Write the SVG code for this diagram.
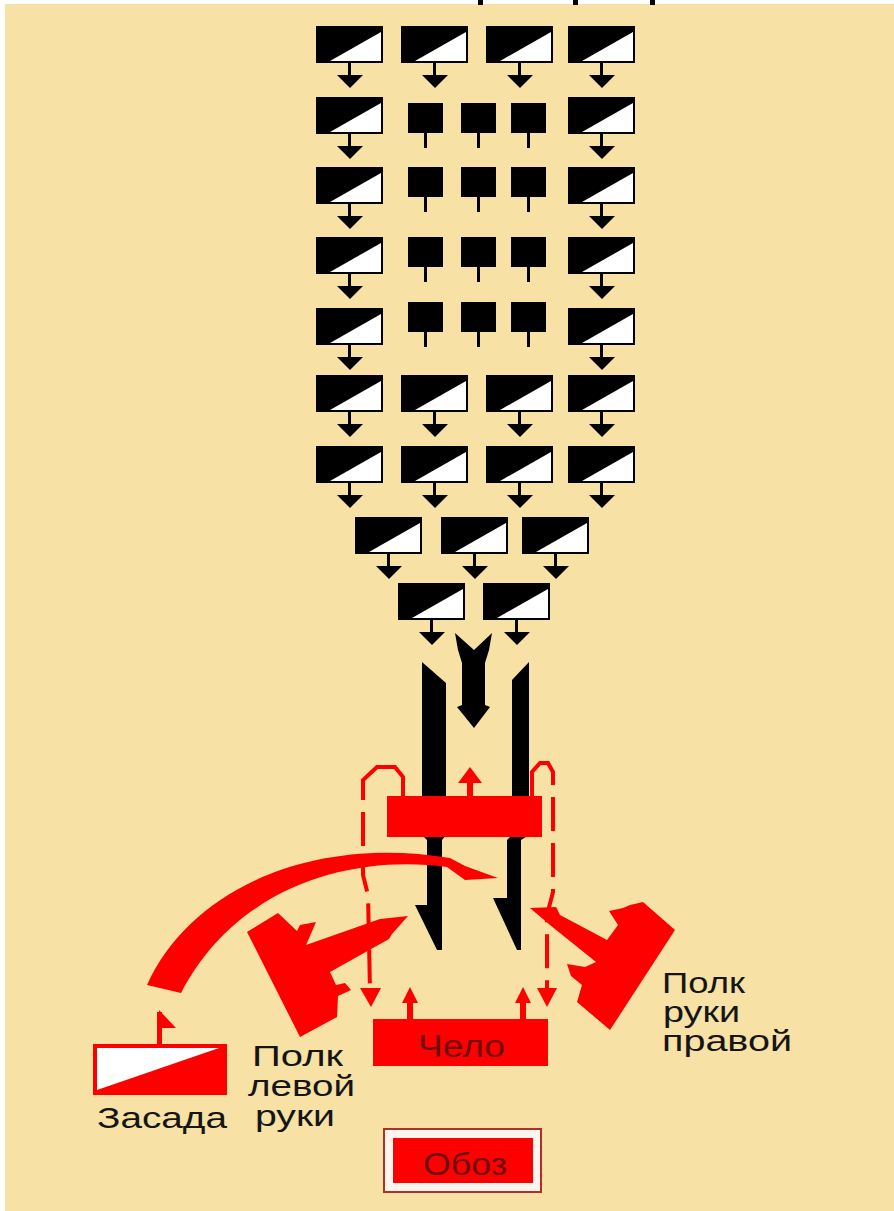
<svg xmlns="http://www.w3.org/2000/svg" xmlns:xlink="http://www.w3.org/1999/xlink" width="894" height="1211" viewBox="0 0 894 1211">
<style>
.blk{fill:#000}
.red{fill:#ff0000}
.dash{fill:none;stroke:#ff0000;stroke-width:4;stroke-dasharray:34 12}
.lbl{font-family:"Liberation Sans",Arial,sans-serif;font-size:29px;fill:#151515}
.in{font-family:"Liberation Sans",Arial,sans-serif;font-size:31px;fill:#6e0c0c}
</style>
<defs>
<g id="unit"><rect width="67" height="37" fill="#000"/><polygon points="14,35 65,6 65,35" fill="#fff"/><rect x="32" y="37" width="3" height="13" fill="#000"/><polygon points="21,49 47,49 34,62" fill="#000"/></g>
<g id="sq"><rect width="35" height="30" fill="#000"/><rect x="16" y="30" width="3" height="15" fill="#000"/></g>
</defs>
<rect width="894" height="1211" fill="#ffffff"/>
<rect x="5" y="4" width="889" height="1207" fill="#f7e1a4"/>
<g id="top-marks" class="blk"><rect x="478" y="0" width="5" height="5"/><rect x="573" y="0" width="5" height="5"/><rect x="650" y="0" width="5" height="5"/></g>
<g id="enemy-wedge">
<g id="r1"><use xlink:href="#unit" x="316" y="26"/><use xlink:href="#unit" x="401" y="26"/><use xlink:href="#unit" x="486" y="26"/><use xlink:href="#unit" x="568" y="26"/></g>
<g id="r2"><use xlink:href="#unit" x="316" y="97"/><use xlink:href="#sq" x="408" y="103"/><use xlink:href="#sq" x="461" y="103"/><use xlink:href="#sq" x="511" y="103"/><use xlink:href="#unit" x="568" y="97"/></g>
<g id="r3"><use xlink:href="#unit" x="316" y="167"/><use xlink:href="#sq" x="408" y="167"/><use xlink:href="#sq" x="461" y="167"/><use xlink:href="#sq" x="511" y="167"/><use xlink:href="#unit" x="568" y="167"/></g>
<g id="r4"><use xlink:href="#unit" x="316" y="237"/><use xlink:href="#sq" x="408" y="237"/><use xlink:href="#sq" x="461" y="237"/><use xlink:href="#sq" x="511" y="237"/><use xlink:href="#unit" x="568" y="237"/></g>
<g id="r5"><use xlink:href="#unit" x="316" y="308"/><use xlink:href="#sq" x="408" y="302"/><use xlink:href="#sq" x="461" y="302"/><use xlink:href="#sq" x="511" y="302"/><use xlink:href="#unit" x="568" y="308"/></g>
<g id="r6"><use xlink:href="#unit" x="316" y="375"/><use xlink:href="#unit" x="401" y="375"/><use xlink:href="#unit" x="486" y="375"/><use xlink:href="#unit" x="568" y="375"/></g>
<g id="r7"><use xlink:href="#unit" x="316" y="446"/><use xlink:href="#unit" x="401" y="446"/><use xlink:href="#unit" x="486" y="446"/><use xlink:href="#unit" x="568" y="446"/></g>
<g id="r8"><use xlink:href="#unit" x="355" y="517"/><use xlink:href="#unit" x="441" y="517"/><use xlink:href="#unit" x="522" y="517"/></g>
<g id="r9"><use xlink:href="#unit" x="398" y="583"/><use xlink:href="#unit" x="483" y="583"/></g>
</g>
<g id="enemy-arrows" class="blk">
<polygon points="455,633 474,650 492,633 489,650 485,663 485,705 490,707 474,728 457,707 462,705 462,663 458,650"/>
<polygon points="422,662 446,683 446,835 442,840 442,950 437,950 415,905 427,905 427,840 422,835"/>
<polygon points="512,680 529,662 529,835 521,840 521,950 517,950 493,898 507,898 507,840 512,835"/>
</g>
<g id="connectors">
<path d="M403,796 L403,777 L395,767 L377,767 L363,780 L363,800" fill="none" stroke="#ff0000" stroke-width="4"/>
<path class="dash" d="M363,812 L363,875 L368,895 L370,990"/>
<polygon class="red" points="360,988 381,988 371,1007"/>
<path d="M532,796 L532,772 L540,763 L548,763 L553,772 L553,785" fill="none" stroke="#ff0000" stroke-width="4"/>
<path class="dash" d="M553,797 L553,892 L547,915 L547,990"/>
<polygon class="red" points="537,988 557,988 547,1007"/>
<path class="red" d="M147,985 C190,890 310,835 450,858 L465,866 L498,878 L465,880 L447,867 C360,855 240,880 181,993 Z"/>
<g class="red"><rect x="467" y="780" width="6" height="17"/><polygon points="458,783 482,783 470,767"/></g>
<g class="red"><rect x="407" y="1000" width="6" height="20"/><polygon points="402,1003 418,1003 410,987"/></g>
<g class="red"><rect x="520" y="1000" width="6" height="20"/><polygon points="515,1003 531,1003 523,987"/></g>
<g class="red"><rect x="157" y="1012" width="5" height="33"/><polygon points="159,1010 176,1028 159,1028"/></g>
</g>
<g id="front-regiment"><rect class="red" x="387" y="796" width="155" height="41"/></g>
<g id="chelo"><rect class="red" x="373" y="1019" width="175" height="47"/><text class="in" x="418" y="1057" textLength="87" lengthAdjust="spacingAndGlyphs">Чело</text></g>
<g id="left-polk">
<path class="red" d="M247,932 L278,913 L297,931 L300,925 L316,922 L310,936 L306,945 L380,919 L408,916 L392,934 L389,939 L330,972 L336,985 L345,983 L351,990 L338,996 L337,1017 L300,1037 Z"/>
<text class="lbl" x="252" y="1066" textLength="91" lengthAdjust="spacingAndGlyphs">Полк</text>
<text class="lbl" x="248" y="1096" textLength="107" lengthAdjust="spacingAndGlyphs">левой</text>
<text class="lbl" x="255" y="1126" textLength="80" lengthAdjust="spacingAndGlyphs">руки</text>
</g>
<g id="right-polk">
<path class="red" d="M643,902 L675,930 L610,1030 L577,1002 L582,985 L571,976 L567,964 L585,967 L596,962 L550,925 L530,908 L556,907 L560,915 L607,940 L618,925 L609,911 L623,908 L630,905 Z"/>
<text class="lbl" x="662" y="993" textLength="83" lengthAdjust="spacingAndGlyphs">Полк</text>
<text class="lbl" x="663" y="1022" textLength="77" lengthAdjust="spacingAndGlyphs">руки</text>
<text class="lbl" x="662" y="1051" textLength="130" lengthAdjust="spacingAndGlyphs">правой</text>
</g>
<g id="zasada">
<rect class="red" x="93" y="1044" width="134" height="51"/>
<polygon points="97,1048 219,1048 97,1090" fill="#ffffff"/>
<text class="lbl" x="97" y="1128" textLength="130" lengthAdjust="spacingAndGlyphs">Засада</text>
</g>
<g id="oboz">
<rect x="384" y="1129" width="157" height="63" fill="#fff4ee" stroke="#b03028" stroke-width="2"/>
<rect class="red" x="393" y="1138" width="140" height="45"/>
<text class="in" x="423" y="1175" textLength="84" lengthAdjust="spacingAndGlyphs">Обоз</text>
</g>
</svg>
